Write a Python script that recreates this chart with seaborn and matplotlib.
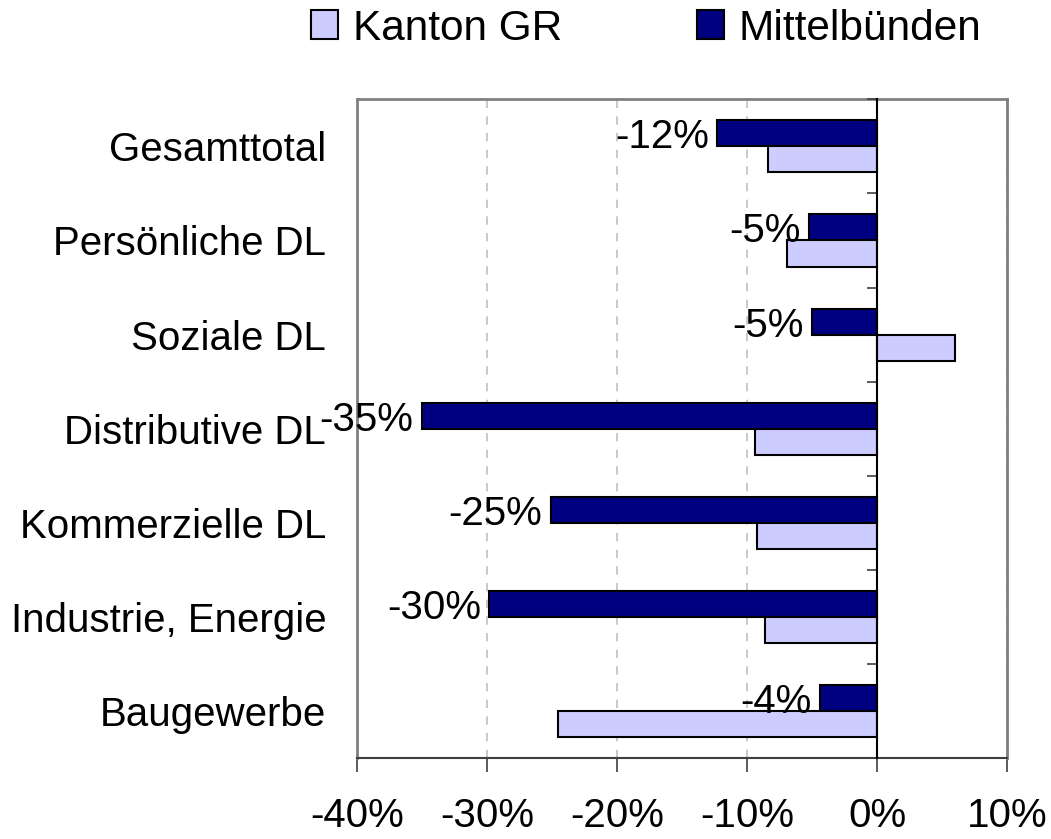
import seaborn as sns
import pandas as pd
import matplotlib.pyplot as plt
from matplotlib.patches import Patch
from matplotlib.ticker import FuncFormatter

# Data (change in %)
kategorien = ['Gesamttotal', 'Persönliche DL', 'Soziale DL', 'Distributive DL',
              'Kommerzielle DL', 'Industrie, Energie', 'Baugewerbe']
mittelbuenden = [-12.3, -5.2, -5.0, -35.0, -25.1, -29.8, -4.4]
kanton_gr = [-8.4, -6.9, 6.0, -9.4, -9.2, -8.6, -24.5]
x_ticks = [-40, -30, -20, -10, 0, 10]

farben = {'Mittelbünden': '#000080', 'Kanton GR': '#CCCCFF'}

df = pd.DataFrame({
    'Kategorie': kategorien * 2,
    'Wert': mittelbuenden + kanton_gr,
    'Region': ['Mittelbünden'] * len(kategorien) + ['Kanton GR'] * len(kategorien),
})

sns.set_style('white')
plt.rcParams['font.family'] = ['Liberation Sans', 'DejaVu Sans']
plt.rcParams['font.size'] = 29
plt.rcParams['text.color'] = 'black'
plt.rcParams['xtick.labelcolor'] = 'black'
plt.rcParams['ytick.labelcolor'] = 'black'

fig = plt.figure(figsize=(10.51, 8.39), dpi=100)
ax = fig.add_axes([0.3394, 0.0965, 0.6188, 0.7851])

sns.barplot(data=df, y='Kategorie', x='Wert', hue='Region',
            hue_order=['Mittelbünden', 'Kanton GR'], palette=farben,
            orient='h', width=0.553, edgecolor='black', linewidth=1.5,
            saturation=1, legend=False, ax=ax)

# labels on the Mittelbünden bars
labels = ax.bar_label(ax.containers[0], labels=[f'{v:.0f}%' for v in mittelbuenden],
                      padding=6, fontsize=29, color='black')
for t in labels:
    t.set_verticalalignment('center_baseline')

ax.set_xlim(-40, 10)
ax.set_xticks(x_ticks)
ax.xaxis.set_major_formatter(FuncFormatter(lambda v, p: f'{v:.0f}%'))
ax.set_xlabel('')
ax.set_ylabel('')
ax.grid(axis='x', linestyle=(0, (5, 5)), color='#c0c0c0', linewidth=1.2)
ax.set_axisbelow(True)
ax.tick_params(axis='x', length=10, width=1.2, color='#404040', pad=18, direction='out', bottom=True)
ax.tick_params(axis='y', length=0, pad=22)
for side in ['left', 'top', 'right']:
    ax.spines[side].set_color('#808080')
    ax.spines[side].set_linewidth(2)
ax.spines['bottom'].set_color('#404040')
ax.spines['bottom'].set_linewidth(1.5)

# category axis crossing at 0 with small ticks between categories
ax2 = ax.twinx()
ax2.set_ylim(ax.get_ylim())
ax2.spines['left'].set_position(('data', 0))
ax2.spines['left'].set_color('black')
ax2.spines['left'].set_linewidth(1.5)
for side in ['right', 'top', 'bottom']:
    ax2.spines[side].set_visible(False)
ax2.yaxis.set_ticks_position('left')
ax2.set_yticks([i - 0.5 for i in range(len(kategorien))])
ax2.tick_params(axis='y', direction='out', length=7, width=1.2, color='#404040', labelleft=False)

handles = [Patch(facecolor=farben['Kanton GR'], edgecolor='black', linewidth=1.5),
           Patch(facecolor=farben['Mittelbünden'], edgecolor='black', linewidth=1.5)]
fig.legend(handles, ['Kanton GR', 'Mittelbünden'], loc='center', ncol=2,
           bbox_to_anchor=(0.615, 0.966), frameon=False, fontsize=30.5,
           handlelength=0.62, handleheight=0.66, handletextpad=0.35, columnspacing=3.2)

fig.savefig('out.png', dpi=100)
